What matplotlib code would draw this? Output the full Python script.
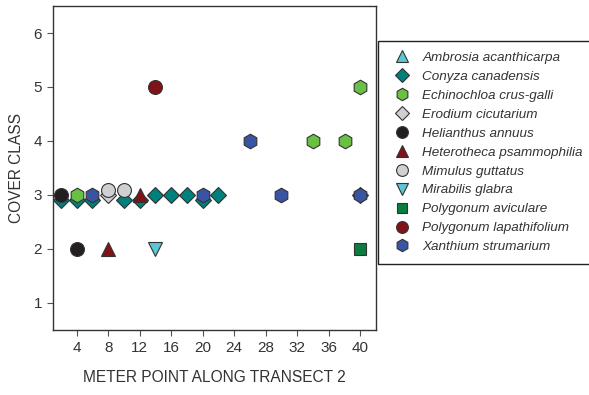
import matplotlib
matplotlib.use("Agg")
import matplotlib.pyplot as plt

# species in legend order
species = [
    "Ambrosia acanthicarpa",
    "Conyza canadensis",
    "Echinochloa crus-galli",
    "Erodium cicutarium",
    "Helianthus annuus",
    "Heterotheca psammophilia",
    "Mimulus guttatus",
    "Mirabilis glabra",
    "Polygonum aviculare",
    "Polygonum lapathifolium",
    "Xanthium strumarium",
]

# meter point / cover class per species
ambrosia_x = []
ambrosia_y = []
conyza_x = [2, 4, 6, 10, 12, 14, 16, 18, 20, 22, 40]
conyza_y = [2.9, 2.9, 2.9, 2.9, 2.9, 3, 3, 3, 2.9, 3, 3]
echinochloa_x = [4, 34, 38, 40]
echinochloa_y = [3, 4, 4, 5]
erodium_x = [8]
erodium_y = [3]
helianthus_x = [2, 4]
helianthus_y = [3, 2]
heterotheca_x = [12, 8]
heterotheca_y = [3, 2]
mimulus_x = [8, 10]
mimulus_y = [3.1, 3.1]
mirabilis_x = [14]
mirabilis_y = [2]
aviculare_x = [40]
aviculare_y = [2]
lapathifolium_x = [14]
lapathifolium_y = [5]
xanthium_x = [6, 20, 26, 30, 40]
xanthium_y = [3, 3, 4, 3, 3]

x_ticks = [4, 8, 12, 16, 20, 24, 28, 32, 36, 40]
y_ticks = [1, 2, 3, 4, 5, 6]


def graph_cover_class():
    """
    Scatter plot of cover class vs meter point along transect 2.
    """
    plt.rcParams['font.family'] = ['Liberation Sans', 'DejaVu Sans']

    xs = [ambrosia_x, conyza_x, echinochloa_x, erodium_x, helianthus_x, heterotheca_x,
          mimulus_x, mirabilis_x, aviculare_x, lapathifolium_x, xanthium_x]
    ys = [ambrosia_y, conyza_y, echinochloa_y, erodium_y, helianthus_y, heterotheca_y,
          mimulus_y, mirabilis_y, aviculare_y, lapathifolium_y, xanthium_y]
    markers = ['^', 'D', 'h', 'D', 'o', '^', 'o', 'v', 's', 'o', 'h']
    sizes = [10, 8, 10.5, 8, 10, 10, 10, 10, 9, 10, 10.5]
    colors = ['#5cc6d6', '#00807c', '#6abf45', '#cfd0d2', '#231f20', '#7e1417',
              '#cfd0d2', '#5cc6d6', '#0b7d3e', '#7e1417', '#3a54a4']

    ### make plot
    fig = plt.figure(figsize=(5.89, 3.95), dpi=100)
    ax = fig.add_axes([0.09, 0.1646, 0.5484, 0.8202])

    for i in range(len(species)):
        ax.plot(xs[i], ys[i], linestyle='none', marker=markers[i], markersize=sizes[i],
                markerfacecolor=colors[i], markeredgecolor='#333333', markeredgewidth=0.8,
                label=species[i])

    # axes ranges and ticks
    ax.set_xlim(1, 42)
    ax.set_ylim(0.5, 6.5)
    ax.set_xticks(x_ticks)
    ax.set_yticks(y_ticks)
    ax.tick_params(direction='out', length=4, width=0.8, color='#555555',
                   labelsize=11, labelcolor='#333333', pad=4)
    for s in ax.spines.values():
        s.set_color('#333333')
        s.set_linewidth(1.0)

    # label everything
    ax.set_xlabel('METER POINT ALONG TRANSECT 2', fontsize=11.2, color='#333333', labelpad=11)
    ax.set_ylabel('COVER CLASS', fontsize=11.2, color='#333333', labelpad=7)

    leg = fig.legend(loc='upper left', bbox_to_anchor=(378 / 589, 1 - 41 / 395),
                     bbox_transform=fig.transFigure, borderaxespad=0, fancybox=False,
                     frameon=True, framealpha=1, edgecolor='#222222',
                     prop={'style': 'italic', 'size': 9.7}, numpoints=1, markerscale=0.85,
                     handlelength=2, handletextpad=0.5, borderpad=0.8, labelspacing=0.48)
    leg.get_frame().set_linewidth(1.0)
    for t in leg.get_texts():
        t.set_color('#333333')

    # save the graph
    fig.savefig("out.png", dpi=100)


if __name__ == "__main__":
    graph_cover_class()
